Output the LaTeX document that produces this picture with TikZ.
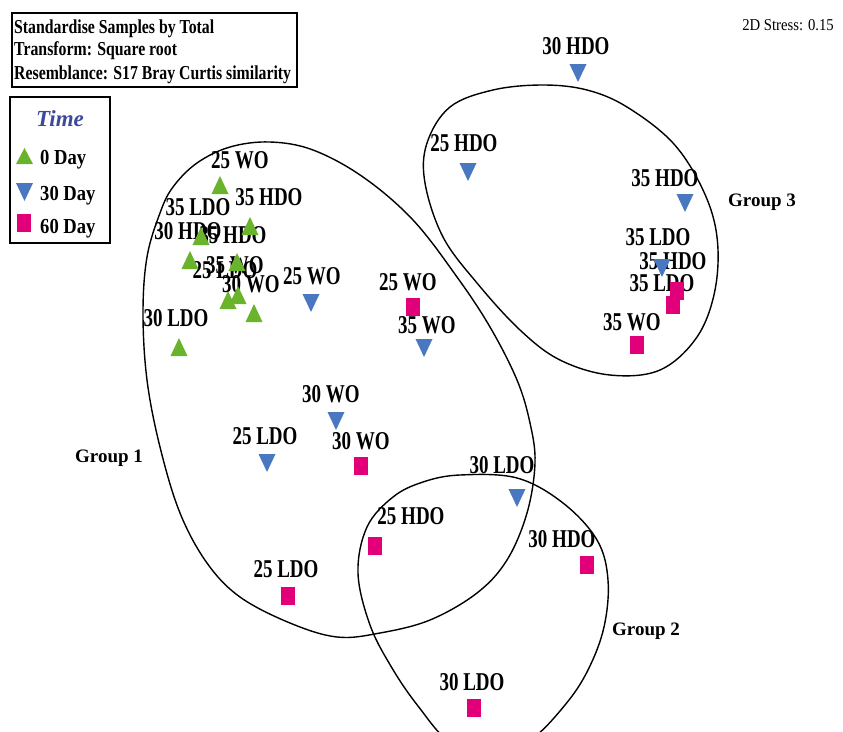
\documentclass[tikz,border=0pt]{standalone}
\usepackage{fontspec}
\setmainfont{Liberation Serif}
\usepackage{graphicx}
\definecolor{mgreen}{HTML}{6AB42D}
\definecolor{mblue}{HTML}{4A78C0}
\definecolor{mpink}{HTML}{E2007A}
\definecolor{tblue}{HTML}{3C4A9E}
\newcommand\lb[1]{\scalebox{1}[1.35]{#1}}
\newcommand\hb[1]{\scalebox{1}[1.25]{#1}}
\newcommand\upm[2]{\fill[mgreen] (#1,#2) ++(-8.5,9) -- ++(17,0) -- ++(-8.5,-18) -- cycle;}
\newcommand\dnm[2]{\fill[mblue] (#1,#2) ++(-8.5,-9) -- ++(17,0) -- ++(-8.5,18) -- cycle;}
\newcommand\sqm[2]{\fill[mpink] (#1,#2) ++(-7,-9) rectangle ++(14,18);}
\tikzset{
  lbl/.style={inner sep=0pt, font=\fontsize{19}{19}\selectfont\bfseries},
  hdr/.style={inner sep=0pt, anchor=base west, font=\fontsize{15.8}{16}\selectfont\bfseries},
  leg/.style={inner sep=0pt, anchor=base west, font=\fontsize{18.6}{19}\selectfont\bfseries},
  grp/.style={inner sep=0pt, anchor=base west, font=\fontsize{19}{19}\selectfont\bfseries},
  outline/.style={draw=black, line width=1.4pt},
  frame/.style={draw=black, line width=1.4pt}
}
\begin{document}
\begin{tikzpicture}[x=1pt,y=-1pt]
\useasboundingbox (0,0) rectangle (843,731);
% group outlines
\draw[outline] plot[smooth cycle, tension=0.6] coordinates {
 (270,142) (313,150) (363,177) (413,220) (457,277) (490,327) (517,380) (530,423) (535,463)
 (527,513) (507,560) (477,593) (430,620) (380,633) (337,637) (290,623) (240,597) (207,563)
 (180,513) (160,447) (147,380) (143,313) (147,257) (160,213) (173,187) (197,163) (230,147)};
\draw[outline] plot[smooth cycle, tension=0.6] coordinates {
 (460,475) (517,478) (563,503) (597,540) (608,580) (604,627) (588,670) (565,705) (530,740)
 (490,752) (450,742) (418,706) (392,668) (370,625) (358,573) (367,527) (393,497) (423,482)};
\draw[outline] plot[smooth cycle, tension=0.6] coordinates {
 (543,85) (587,90) (627,107) (673,143) (703,190) (717,237) (715,290) (697,337) (660,370)
 (610,375) (560,360) (520,330) (477,283) (443,237) (425,183) (427,143) (450,107) (493,90)};
\node[grp] (grp1) at (75,462) {Group 1};
\node[grp] (grp2) at (612,635) {Group 2};
\node[grp] (grp3) at (728,206) {Group 3};
% header box
\draw[frame] (12,13) rectangle (297,87);
\node[hdr] (h1) at (14,33) {\hb{Standardise Samples by Total}};
\node[hdr] (h2) at (14,55) {\hb{Transform: Square root}};
\node[hdr] (h3) at (14,79) {\hb{Resemblance: S17 Bray Curtis similarity}};
\node[inner sep=0pt, font=\fontsize{14.7}{15}\selectfont] (stress) at (788,25) {\scalebox{1}[1.13]{2D Stress: 0.15}};
% legend
\draw[frame] (10,97) rectangle (110,243);
\node[inner sep=0pt, font=\fontsize{23}{23}\selectfont\bfseries\itshape, text=tblue] (time) at (60,119) {Time};
\fill[mgreen] (16,164) -- (33,164) -- (24.5,148) -- cycle;
\fill[mblue] (16,183) -- (33,183) -- (24.5,201) -- cycle;
\fill[mpink] (17,214) rectangle (31,232);
\node[leg] (l0) at (40,164) {\scalebox{1}[1.15]{0 Day}};
\node[leg] (l30) at (40,200) {\scalebox{1}[1.15]{30 Day}};
\node[leg] (l60) at (40,233) {\scalebox{1}[1.15]{60 Day}};
% labels
\node[lbl] (ga) at (240,160) {\lb{25 WO}};
\node[lbl] (gb) at (269,197) {\lb{35 HDO}};
\node[lbl] (gc) at (198,207) {\lb{35 LDO}};
\node[lbl] (gd) at (233,235) {\lb{35 HDO}};
\node[lbl] (ge) at (188,231) {\lb{30 HDO}};
\node[lbl] (gf) at (225,270) {\lb{25 LDO}};
\node[lbl] (gg) at (235,265) {\lb{35 WO}};
\node[lbl] (gh) at (251,284) {\lb{30 WO}};
\node[lbl] (gi) at (176,318) {\lb{30 LDO}};
\node[lbl] (ba) at (576,46) {\lb{30 HDO}};
\node[lbl] (bb) at (464,143) {\lb{25 HDO}};
\node[lbl] (bc) at (665,178) {\lb{35 HDO}};
\node[lbl] (bd) at (658,237) {\lb{35 LDO}};
\node[lbl] (be) at (312,276) {\lb{25 WO}};
\node[lbl] (bf) at (427,325) {\lb{35 WO}};
\node[lbl] (bg) at (331,394) {\lb{30 WO}};
\node[lbl] (bh) at (265,436) {\lb{25 LDO}};
\node[lbl] (bi) at (502,465) {\lb{30 LDO}};
\node[lbl] (pa) at (408,282) {\lb{25 WO}};
\node[lbl] (pb) at (361,441) {\lb{30 WO}};
\node[lbl] (pc) at (411,516) {\lb{25 HDO}};
\node[lbl] (pd) at (286,569) {\lb{25 LDO}};
\node[lbl] (pe) at (562,539) {\lb{30 HDO}};
\node[lbl] (pf) at (472,682) {\lb{30 LDO}};
\node[lbl] (pg) at (673,261) {\lb{35 HDO}};
\node[lbl] (ph) at (662,283) {\lb{35 LDO}};
\node[lbl] (pi) at (632,322) {\lb{35 WO}};
% markers: 0 Day
\upm{220}{185}
\upm{250}{226}
\upm{201}{236}
\upm{190}{260}
\upm{237}{262}
\upm{228}{300}
\upm{238}{295}
\upm{254}{313}
\upm{179}{347}
% markers: 30 Day
\dnm{578}{73}
\dnm{468}{172}
\dnm{685}{203}
\dnm{662}{268}
\dnm{311}{303}
\dnm{424}{348}
\dnm{336}{421}
\dnm{267}{463}
\dnm{517}{498}
% markers: 60 Day
\sqm{413}{307}
\sqm{361}{466}
\sqm{375}{546}
\sqm{288}{596}
\sqm{587}{565}
\sqm{474}{708}
\sqm{677}{291}
\sqm{673}{305}
\sqm{637}{345}
\end{tikzpicture}
\end{document}
